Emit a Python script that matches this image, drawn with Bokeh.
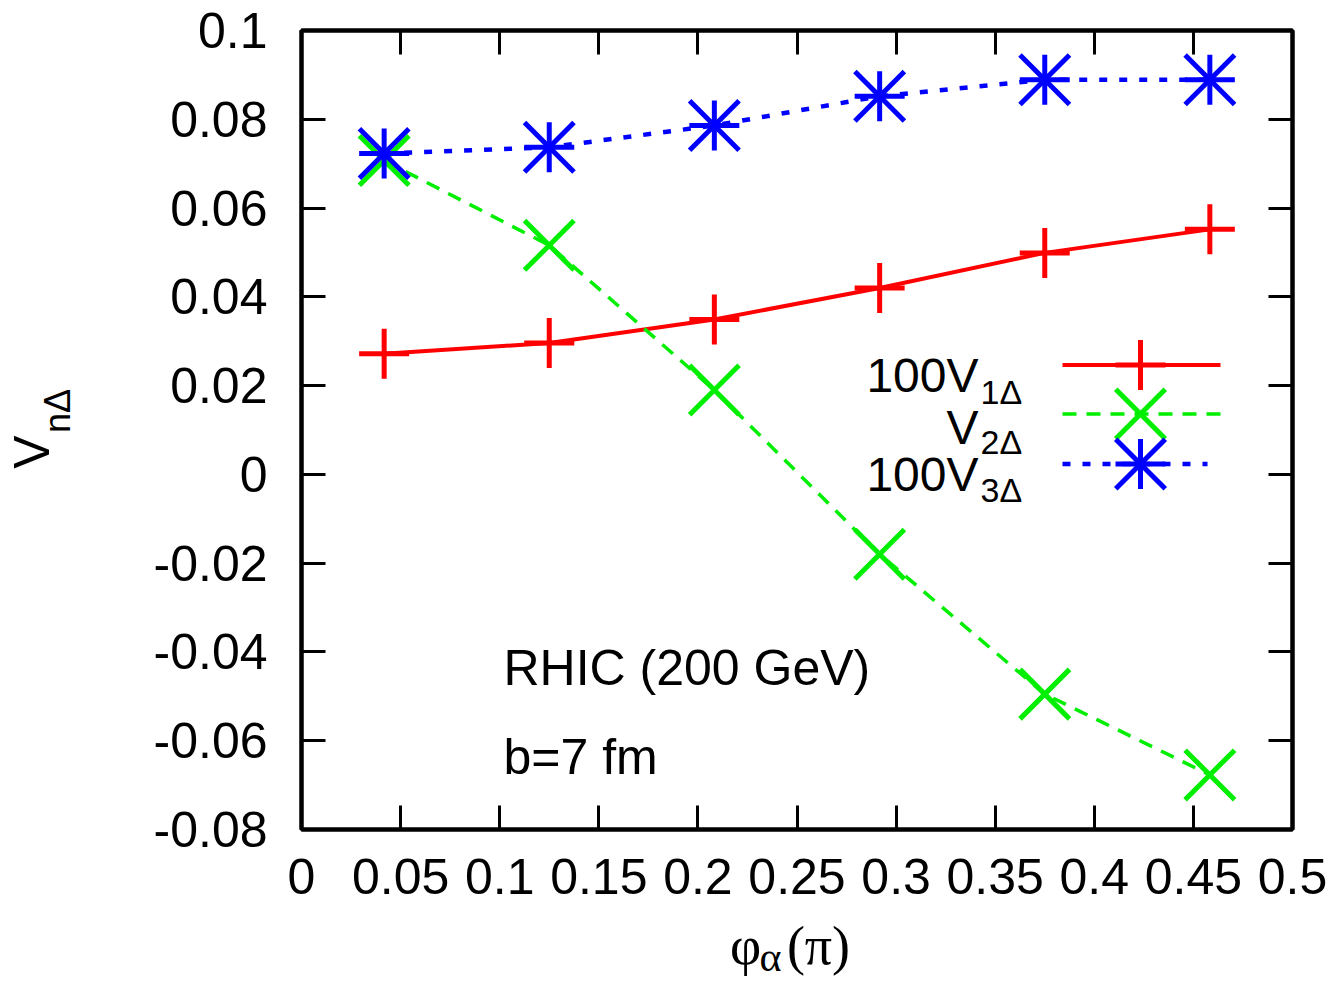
import math
from bokeh.plotting import figure
from bokeh.models import Range1d, LinearAxis, FixedTicker, Label
from bokeh.embed import file_html
from bokeh.resources import INLINE

# ---------------- data ----------------
phi_alpha = [0.0417, 0.125, 0.2083, 0.2917, 0.375, 0.4583]
v1_times100 = [0.0272, 0.0296, 0.0349, 0.0420, 0.0499, 0.0552]
v2 = [0.0707, 0.0516, 0.0190, -0.0180, -0.0495, -0.0677]
v3_times100 = [0.0723, 0.0737, 0.0786, 0.0852, 0.0889, 0.0889]

x_ticks = [0.0, 0.05, 0.1, 0.15, 0.2, 0.25, 0.3, 0.35, 0.4, 0.45, 0.5]
x_tick_labels = ["0", "0.05", "0.1", "0.15", "0.2", "0.25", "0.3", "0.35", "0.4", "0.45", "0.5"]
y_ticks = [-0.08, -0.06, -0.04, -0.02, 0.0, 0.02, 0.04, 0.06, 0.08, 0.1]
y_tick_labels = ["-0.08", "-0.06", "-0.04", "-0.02", "0", "0.02", "0.04", "0.06", "0.08", "0.1"]

series_names = ["100V", "V", "100V"]
series_subs = ["1Δ", "2Δ", "3Δ"]

x_title = ["φ", "α", "(π)"]      # φ_α(π)
y_title = ["V", "nΔ"]            # V_nΔ

# ---------------- layout ----------------
W, H = 1342, 982
FX0, FX1, FY0, FY1 = 301, 1292, 30, 830
X0, X1, Y0, Y1 = 0.0, 0.5, -0.08, 0.1

RED, GREEN, BLUE = "#ff0000", "#00ee00", "#0000ff"
SANS = "Liberation Sans"
SERIF = "Liberation Serif"


def dx(px):
    return X0 + (px - FX0) / (FX1 - FX0) * (X1 - X0)


def dy(py):
    return Y1 - (py - FY0) / (FY1 - FY0) * (Y1 - Y0)


p = figure(width=W, height=H, output_backend="svg", toolbar_location=None,
           x_range=Range1d(X0, X1), y_range=Range1d(Y0, Y1),
           min_border_left=FX0, min_border_right=W - FX1,
           min_border_top=FY0, min_border_bottom=H - FY1)
p.grid.visible = False
p.outline_line_color = "black"
p.outline_line_width = 4
p.background_fill_color = "white"
p.border_fill_color = "white"


def style_axis(ax, labels=True):
    ax.major_tick_in = 24
    ax.major_tick_out = 0
    ax.major_tick_line_width = 3
    ax.major_tick_line_color = "black"
    ax.minor_tick_line_color = None
    ax.axis_line_color = "black"
    ax.axis_line_width = 4
    if labels:
        ax.major_label_text_font = SANS
        ax.major_label_text_font_size = "50px"
        ax.major_label_text_color = "black"
    else:
        ax.major_label_overrides = {t: "" for t in ax.ticker.ticks}
        ax.major_label_text_font_size = "1px"
        ax.major_label_standoff = 0


xa = p.xaxis[0]
xa.ticker = FixedTicker(ticks=x_ticks)
xa.major_label_overrides = {t: s for t, s in zip(x_ticks, x_tick_labels)}
style_axis(xa)
xa.major_label_standoff = 29

ya = p.yaxis[0]
ya.ticker = FixedTicker(ticks=y_ticks)
ya.major_label_overrides = {t: s for t, s in zip(y_ticks, y_tick_labels)}
style_axis(ya)
ya.major_label_standoff = 34

top = LinearAxis(ticker=FixedTicker(ticks=x_ticks))
style_axis(top, labels=False)
p.add_layout(top, "above")
right = LinearAxis(ticker=FixedTicker(ticks=y_ticks))
style_axis(right, labels=False)
p.add_layout(right, "right")


# ---------------- axis titles (as label-only axes, so that subscripts can be placed) ----------------
def title_axis(pos, texts, font, size, standoff, vertical=False):
    ax = LinearAxis(ticker=FixedTicker(ticks=pos))
    ax.major_label_overrides = {t: s for t, s in zip(pos, texts)}
    ax.major_label_text_font = font
    ax.major_label_text_font_size = size
    ax.major_label_text_color = "black"
    ax.major_label_standoff = standoff
    ax.major_tick_line_color = None
    ax.minor_tick_line_color = None
    ax.axis_line_color = None
    if vertical:
        ax.major_label_orientation = "vertical"
    return ax


# x title: subscript α first (lower row), then φ and (π) pulled back up
p.add_layout(title_axis([dx(770)], [x_title[1]], SERIF, "42px", 31), "below")
p.add_layout(title_axis([dx(745), dx(818)], [x_title[0], x_title[2]], SERIF, "54px", -73), "below")

# y title: subscript nΔ nearer the axis, then V
p.add_layout(title_axis([dy(411)], [y_title[1]], SANS, "36px", 66, vertical=True), "left")
p.add_layout(title_axis([dy(452)], [y_title[0]], SANS, "50px", -32, vertical=True), "left")

MS = 50       # + marker size
XS = 70       # x marker size (bokeh draws x inside a smaller box)
MLW = 5

# series 1: 100 V1Δ, red solid with +
p.line(phi_alpha, v1_times100, line_color=RED, line_width=4)
p.scatter(phi_alpha, v1_times100, marker="cross", size=MS, line_color=RED, line_width=MLW)

# series 2: V2Δ, green dashed with x
p.line(phi_alpha, v2, line_color=GREEN, line_width=3.5, line_dash="14 10")
p.scatter(phi_alpha, v2, marker="x", size=XS, line_color=GREEN, line_width=MLW)

# series 3: 100 V3Δ, blue dotted with asterisk (+ and x overlaid)
p.line(phi_alpha, v3_times100, line_color=BLUE, line_width=4.5, line_dash="8 12")
p.scatter(phi_alpha, v3_times100, marker="cross", size=MS, line_color=BLUE, line_width=MLW)
p.scatter(phi_alpha, v3_times100, marker="x", size=XS, line_color=BLUE, line_width=MLW)

# ---------------- legend (gnuplot style: text right-aligned, sample to the right) ----------------
colors = [RED, GREEN, BLUE]
dashes = ["solid", "14 10", "8 12"]
widths = [4, 3.5, 4.5]
row_line_y = [365, 414, 464]
row_main_base = [375, 427, 475]
row_sub_base = [392, 442, 490]
line_x_end = [1220, 1220, 1207]
for i in range(3):
    p.add_layout(Label(x=dx(978), y=dy(row_main_base[i]), text=series_names[i],
                       text_align="right", text_baseline="alphabetic",
                       text_font=SANS, text_font_size="48px", text_color="black"))
    p.add_layout(Label(x=dx(980), y=dy(row_sub_base[i]), text=series_subs[i],
                       text_align="left", text_baseline="alphabetic",
                       text_font=SANS, text_font_size="34px", text_color="black"))
    p.line([dx(1062), dx(line_x_end[i])], [dy(row_line_y[i])] * 2,
           line_color=colors[i], line_width=widths[i], line_dash=dashes[i])
    mx, my = [dx(1140)], [dy(row_line_y[i])]
    if i == 0:
        p.scatter(mx, my, marker="cross", size=MS, line_color=RED, line_width=MLW)
    elif i == 1:
        p.scatter(mx, my, marker="x", size=XS, line_color=GREEN, line_width=MLW)
    else:
        p.scatter(mx, my, marker="cross", size=MS, line_color=BLUE, line_width=MLW)
        p.scatter(mx, my, marker="x", size=XS, line_color=BLUE, line_width=MLW)

# ---------------- annotations ----------------
p.add_layout(Label(x=dx(503), y=dy(668), text="RHIC (200 GeV)", text_align="left",
                   text_baseline="alphabetic", text_font=SANS, text_font_size="50px",
                   text_color="black"))
p.add_layout(Label(x=dx(503), y=dy(757), text="b=7 fm", text_align="left",
                   text_baseline="alphabetic", text_font=SANS, text_font_size="50px",
                   text_color="black"))

open("out.html", "w").write(file_html(p, INLINE))
